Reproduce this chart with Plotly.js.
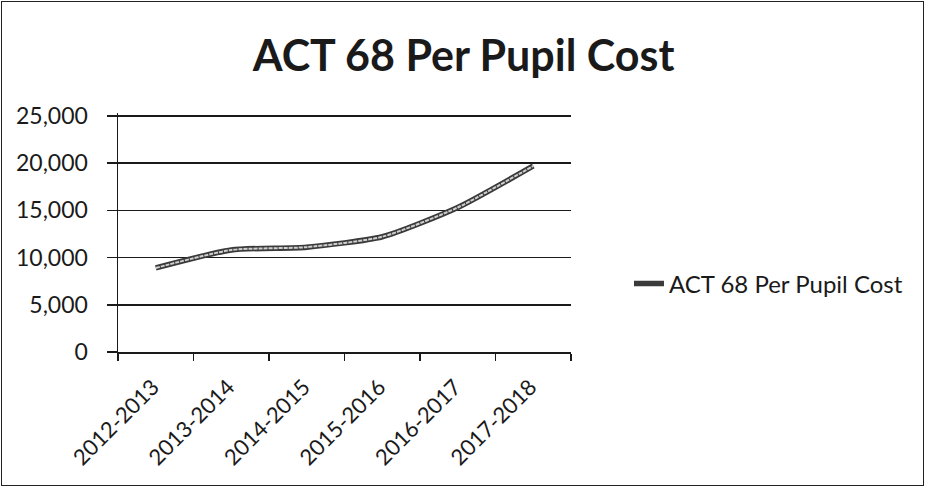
<!DOCTYPE html>
<html>
<head>
<meta charset="utf-8">
<script src="https://cdn.plot.ly/plotly-3.0.1.min.js"></script>
<style>
html, body { margin: 0; padding: 0; background: #fff; }
#wrap { position: absolute; left: 1px; top: 1px; width: 923px; height: 485px; border: 1.5px solid #222; box-sizing: border-box; }
#chart { position: absolute; left: -1.5px; top: -1.5px; width: 927px; height: 489px; }
</style>
</head>
<body>
<div id="wrap"><div id="chart"></div></div>
<script>
const categories = ["2012-2013", "2013-2014", "2014-2015", "2015-2016", "2016-2017", "2017-2018"];
const costValues = [8900, 10800, 11100, 12200, 15300, 19700];
const seriesName = "ACT 68 Per Pupil Cost";
const yTickValues = [0, 5000, 10000, 15000, 20000, 25000];
const yTickLabels = ["0", "5,000", "10,000", "15,000", "20,000", "25,000"];

const FONT = "Lato, 'Open Sans', sans-serif";

const traces = [
  {
    x: categories, y: costValues, type: "scatter", mode: "lines",
    name: seriesName,
    line: { color: "#3a3a3a", width: 5.5, shape: "spline", smoothing: 0.6 },
    showlegend: true
  },
  {
    x: categories, y: costValues, type: "scatter", mode: "lines",
    name: seriesName,
    line: { color: "#cfcfcf", width: 2, shape: "spline", smoothing: 0.6, dash: "4px,1px" },
    showlegend: false, hoverinfo: "skip"
  }
];

const layout = {
  width: 927, height: 489,
  paper_bgcolor: "rgba(0,0,0,0)", plot_bgcolor: "rgba(0,0,0,0)",
  margin: { l: 117, r: 357, t: 112, b: 138 },
  font: { family: FONT, color: "#1a1a1a", size: 22 },
  title: {
    text: "<b>ACT 68 Per Pupil Cost</b>",
    font: { family: FONT, size: 43, color: "#1a1a1a" },
    x: 0.499, xanchor: "center", y: 0.888, yanchor: "middle"
  },
  xaxis: {
    type: "category", range: [-0.5, 5.5],
    tickangle: -45, tickson: "boundaries",
    ticks: "outside", ticklen: 7, tickcolor: "#1a1a1a", tickwidth: 1.5,
    showline: true, linecolor: "#1a1a1a", linewidth: 1.5,
    showgrid: false, zeroline: false,
    ticklabelstandoff: 12, ticklabelshift: -3,
    tickfont: { family: FONT, size: 22, color: "#1a1a1a" }
  },
  yaxis: {
    range: [0, 25300], tickvals: yTickValues, ticktext: yTickLabels,
    ticks: "outside", ticklen: 10, tickcolor: "#1a1a1a", tickwidth: 1.5,
    showline: true, linecolor: "#1a1a1a", linewidth: 1.5,
    showgrid: true, gridcolor: "#1a1a1a", gridwidth: 1.5,
    zeroline: false, ticklabelstandoff: 14,
    tickfont: { family: FONT, size: 23, color: "#1a1a1a" }
  },
  legend: {
    x: 1.128, xanchor: "left", y: 0.285, yanchor: "middle",
    font: { family: FONT, size: 24, color: "#1a1a1a" },
    bgcolor: "rgba(0,0,0,0)", itemwidth: 30
  },
  showlegend: true
};

Plotly.newPlot("chart", traces, layout, { displayModeBar: false, staticPlot: true });
</script>
</body>
</html>
